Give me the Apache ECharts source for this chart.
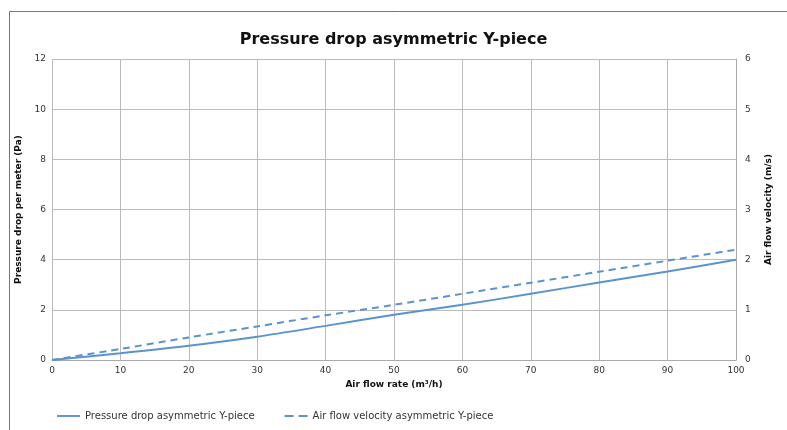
<!DOCTYPE html>
<html>
<head>
<meta charset="utf-8">
<script src="https://cdn.jsdelivr.net/npm/echarts@6/dist/echarts.min.js"></script>
<style>
  html, body { margin: 0; padding: 0; background: #fff; }
  #chart { width: 787px; height: 430px; }
</style>
</head>
<body>
<div id="chart"></div>
<script>
var flowRate = [0, 10, 20, 30, 40, 50, 60, 70, 80, 90, 100];
var pressureDrop = [0, 0.27, 0.57, 0.93, 1.36, 1.8, 2.2, 2.64, 3.09, 3.53, 4.0];
var airVelocity = [0, 0.22, 0.45, 0.67, 0.89, 1.1, 1.32, 1.54, 1.76, 1.98, 2.2];

var lineColor = '#5b93cf';
var font = 'DejaVu Sans';

function pairs(ys) {
  return flowRate.map(function (x, i) { return [x, ys[i]]; });
}

var option = {
  animation: false,
  textStyle: {fontFamily: font},
  title: {
    text: 'Pressure drop asymmetric Y-piece',
    left: 'center',
    top: 27,
    textStyle: {fontSize: 16, fontWeight: 'bold', color: '#111', fontFamily: font}
  },
  grid: {left: 52, right: 51, top: 59, bottom: 70, containLabel: false},
  legend: {
    orient: 'horizontal',
    top: 406,
    left: 52,
    itemWidth: 23,
    itemHeight: 8,
    itemGap: 30,
    textStyle: {fontSize: 10, color: '#333', fontFamily: font},
    data: [
      {name: 'Pressure drop asymmetric Y-piece', icon: 'path://M0,3 L24,3 L24,5 L0,5 Z'},
      {name: 'Air flow velocity asymmetric Y-piece', icon: 'path://M0,3 L9,3 L9,5 L0,5 Z M14,3 L23,3 L23,5 L14,5 Z'}
    ]
  },
  xAxis: {
    type: 'value',
    min: 0, max: 100, interval: 10,
    name: 'Air flow rate (m³/h)',
    nameLocation: 'middle',
    nameGap: 20,
    nameTextStyle: {fontSize: 9, fontWeight: 'bold', color: '#111'},
    axisLine: {show: true, lineStyle: {color: '#aaa', width: 1}},
    axisTick: {show: false},
    axisLabel: {fontSize: 9, color: '#333', margin: 6},
    splitLine: {show: true, lineStyle: {color: '#bbb', width: 1}}
  },
  yAxis: [{
    type: 'value',
    min: 0, max: 12, interval: 2,
    name: 'Pressure drop per meter (Pa)',
    nameLocation: 'middle',
    nameGap: 22,
    nameTextStyle: {fontSize: 9, fontWeight: 'bold', color: '#111'},
    axisLine: {show: false},
    axisTick: {show: false},
    axisLabel: {fontSize: 9, color: '#333', margin: 6},
    splitLine: {show: true, lineStyle: {color: '#bbb', width: 1}}
  }, {
    type: 'value',
    position: 'right',
    min: 0, max: 6, interval: 1,
    name: 'Air flow velocity (m/s)',
    nameLocation: 'middle',
    nameGap: 28,
    nameRotate: 90,
    nameTextStyle: {fontSize: 9, fontWeight: 'bold', color: '#111'},
    axisLine: {show: true, lineStyle: {color: '#aaa', width: 1}},
    axisTick: {show: false},
    axisLabel: {fontSize: 9, color: '#333', margin: 9},
    splitLine: {show: false}
  }],
  series: [{
    name: 'Pressure drop asymmetric Y-piece',
    type: 'line',
    yAxisIndex: 0,
    data: pairs(pressureDrop),
    smooth: 0.3,
    symbol: 'none',
    lineStyle: {color: lineColor, width: 2},
    itemStyle: {color: lineColor}
  }, {
    name: 'Air flow velocity asymmetric Y-piece',
    type: 'line',
    yAxisIndex: 1,
    data: pairs(airVelocity),
    smooth: 0.3,
    symbol: 'none',
    lineStyle: {color: lineColor, width: 2, type: [7, 5]},
    itemStyle: {color: lineColor}
  }],
  graphic: [{
    type: 'polyline',
    shape: {points: [[9.5, 430], [9.5, 11.5], [787, 11.5]]},
    style: {stroke: '#777', lineWidth: 1, fill: null},
    silent: true
  }]
};

var chart = echarts.init(document.getElementById('chart'));
chart.setOption(option);
</script>
</body>
</html>
